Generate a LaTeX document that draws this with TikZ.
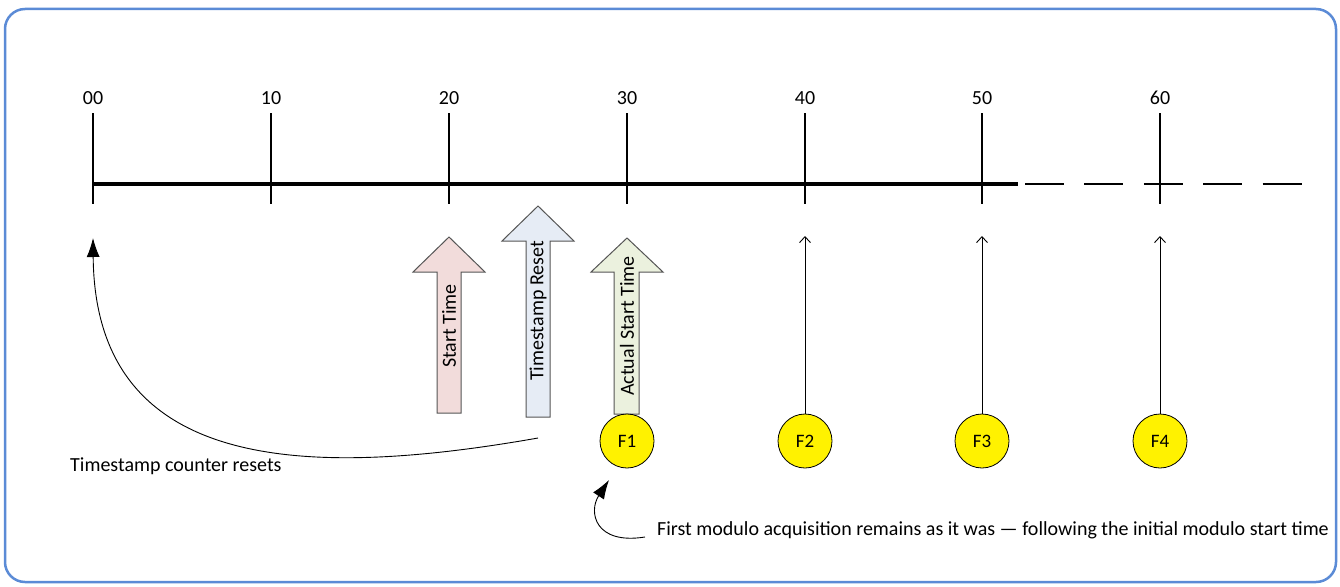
\documentclass[tikz,border=0pt]{standalone}
\usepackage{fontspec}
\setmainfont{Carlito}
\usetikzlibrary{arrows.meta}
\definecolor{frame}{HTML}{5B8BD6}
\definecolor{pinkf}{HTML}{F2DCDB}
\definecolor{bluef}{HTML}{E6ECF5}
\definecolor{greenf}{HTML}{EBF1DE}
\definecolor{arrowline}{HTML}{555555}
\begin{document}
\begin{tikzpicture}[x=1pt,y=-1pt,
  txt/.style={font=\fontsize{20}{24}\selectfont, inner sep=0pt},
  ticklbl/.style={font=\fontsize{20}{24}\selectfont, inner sep=0pt},
  tickline/.style={line width=2.5pt},
  blockarrow/.style={draw=arrowline, line width=1pt},
  frameF/.style={circle, draw=black, line width=0.8pt, fill=yellow, minimum size=54pt, inner sep=0pt, font=\fontsize{19}{22}\selectfont},
  thinarrow/.style={line width=0.9pt, -{Straight Barb[length=6pt,width=11pt,line width=0.9pt]}},
  curvearrow/.style={line width=0.9pt, -{Latex[length=19pt,width=13pt]}}
]
\useasboundingbox (0,0) rectangle (1340,586);
\draw[frame, line width=2.5pt, rounded corners=20pt] (5,9) rectangle (1336,582);

% axis
\draw[line width=3.5pt] (93,184) -- (1018,184);
\draw[line width=2.2pt, dash pattern=on 39pt off 20.4pt] (1025,184) -- (1302,184);

% ticks and labels
\foreach \x/\l [count=\i] in {93/00,271/10,449/20,627/30,805/40,982/50,1160/60}{
  \draw[tickline] (\x,113) -- (\x,204);
  \node[ticklbl] (lbl\i) at (\x,98) {\l};
}

% block arrows
\draw[blockarrow, fill=pinkf] (437,413) -- (437,272) -- (413,272) -- (449,237) -- (485,272) -- (461,272) -- (461,413) -- cycle;
\node[txt, rotate=90] (st) at (449,326) {Start Time};

\draw[blockarrow, fill=bluef] (526,417) -- (526,241) -- (502,241) -- (538,206) -- (574,241) -- (550,241) -- (550,417) -- cycle;
\node[txt, rotate=90] (tr) at (538,311) {Timestamp Reset};

\draw[blockarrow, fill=greenf] (614,414) -- (614,272) -- (591,272) -- (627,238) -- (663,272) -- (639,272) -- (639,414) -- cycle;
\node[txt, rotate=90] (ast) at (627,326) {Actual Start Time};

% F circles
\node[frameF] (F1) at (627,441) {F1};
\node[frameF] (F2) at (805,441) {F2};
\node[frameF] (F3) at (982,441) {F3};
\node[frameF] (F4) at (1160,441) {F4};

\coordinate (t2) at (805,236);
\coordinate (t3) at (982,236);
\coordinate (t4) at (1160,236);
\draw[thinarrow] (F2.north) -- (t2);
\draw[thinarrow] (F3.north) -- (t3);
\draw[thinarrow] (F4.north) -- (t4);

% curved arrow 1
\coordinate (c1s) at (538,438);
\coordinate (c1e) at (93,238);
\draw[curvearrow] (c1s) .. controls (300,480) and (95,470) .. (c1e);
\node[txt, anchor=west] (resets) at (70,466) {Timestamp counter resets};

% curved arrow 2
\node[txt, anchor=west] (first) at (657,530) {First modulo acquisition remains as it was — following the initial modulo start time};
\coordinate (c2s) at (645,537);
\coordinate (c2e) at (609,480);
\draw[curvearrow] (c2s) .. controls (595,545) and (588,512) .. (c2e);
\end{tikzpicture}
\end{document}
